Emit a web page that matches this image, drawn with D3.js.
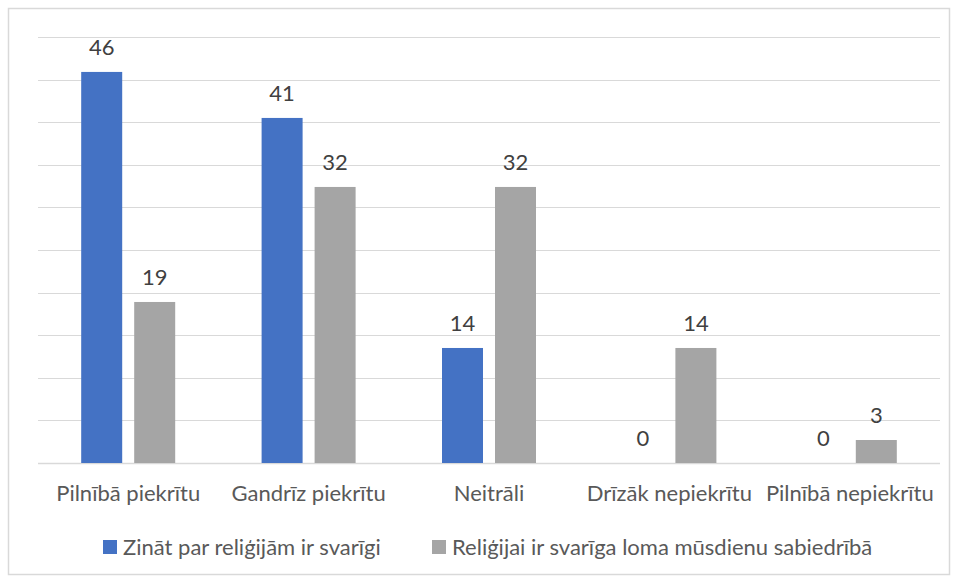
<!DOCTYPE html>
<html>
<head>
<meta charset="utf-8">
<script src="https://cdn.jsdelivr.net/npm/d3@7"></script>
<style>
  body { margin: 0; background: #fff; }
  text { font-family: Lato, "Open Sans", sans-serif; }
</style>
</head>
<body>
<div id="chart"></div>
<script>
// chart data (percent, labels shown rounded)
var categories = ["Pilnībā piekrītu", "Gandrīz piekrītu", "Neitrāli", "Drīzāk nepiekrītu", "Pilnībā nepiekrītu"];
var seriesNames = ["Zināt par reliģijām ir svarīgi", "Reliģijai ir svarīga loma mūsdienu sabiedrībā"];
var series1 = [45.9, 40.5, 13.5, 0, 0];
var series2 = [18.9, 32.4, 32.4, 13.5, 2.7];
var yTicks = [0, 5, 10, 15, 20, 25, 30, 35, 40, 45, 50];

var colors = ["#4472c4", "#a5a5a5"];

var W = 957, H = 580;
var margin = {top: 37, right: 17, bottom: 117, left: 38},
    width = W - margin.left - margin.right,
    height = H - margin.top - margin.bottom;

var svg = d3.select("#chart").append("svg")
  .attr("width", W)
  .attr("height", H);

// outer border
svg.append("rect")
  .attr("x", 8.5).attr("y", 8.5)
  .attr("width", 941).attr("height", 566)
  .attr("fill", "#fff")
  .attr("stroke", "#d9d9d9")
  .attr("stroke-width", 1.5);

var g = svg.append("g")
  .attr("transform", "translate(" + margin.left + "," + margin.top + ")");

var x = d3.scaleBand().domain(categories).range([0, width]);
var y = d3.scaleLinear().domain([0, 50]).range([height, 0]);

// gridlines
g.selectAll(".grid")
  .data(yTicks)
  .enter().append("line")
  .attr("x1", 0).attr("x2", width)
  .attr("y1", function(d) { return Math.round(y(d)) + 0.5; })
  .attr("y2", function(d) { return Math.round(y(d)) + 0.5; })
  .attr("stroke", "#d9d9d9")
  .attr("stroke-width", function(d) { return d === 0 ? 1.5 : 1; });

var barW = 41, gap = 12;
var allSeries = [series1, series2];

allSeries.forEach(function(vals, si) {
  var off = si === 0 ? -(gap / 2 + barW) : gap / 2;
  var data = categories.map(function(c, i) { return {cat: c, v: vals[i]}; });

  g.selectAll(".bar" + si)
    .data(data)
    .enter().append("rect")
    .attr("x", function(d) { return x(d.cat) + x.bandwidth() / 2 + off; })
    .attr("y", function(d) { return y(d.v); })
    .attr("width", barW)
    .attr("height", function(d) { return height - y(d.v); })
    .attr("fill", colors[si]);

  // value labels
  g.selectAll(".lab" + si)
    .data(data)
    .enter().append("text")
    .attr("x", function(d) { return x(d.cat) + x.bandwidth() / 2 + off + barW / 2; })
    .attr("y", function(d) { return y(d.v) - 17; })
    .attr("text-anchor", "middle")
    .attr("font-size", 22)
    .attr("fill", "#404040")
    .text(function(d) { return Math.round(d.v); });
});

// x axis labels
var xAxis = d3.axisBottom(x).tickSize(0).tickPadding(22);
var ax = g.append("g")
  .attr("transform", "translate(0," + height + ")")
  .call(xAxis);
ax.select(".domain").remove();
ax.selectAll("text")
  .attr("font-size", 22)
  .attr("fill", "#595959")
  .style("font-family", "Lato, \"Open Sans\", sans-serif");

// legend
var legendX = [103, 432];
var leg = svg.append("g").attr("transform", "translate(0,547)");
seriesNames.forEach(function(name, i) {
  leg.append("rect")
    .attr("x", legendX[i]).attr("y", -7)
    .attr("width", 14).attr("height", 14)
    .attr("fill", colors[i]);
  leg.append("text")
    .attr("x", legendX[i] + 20)
    .attr("y", 8)
    .attr("font-size", 22)
    .attr("fill", "#595959")
    .text(name);
});
</script>
</body>
</html>
